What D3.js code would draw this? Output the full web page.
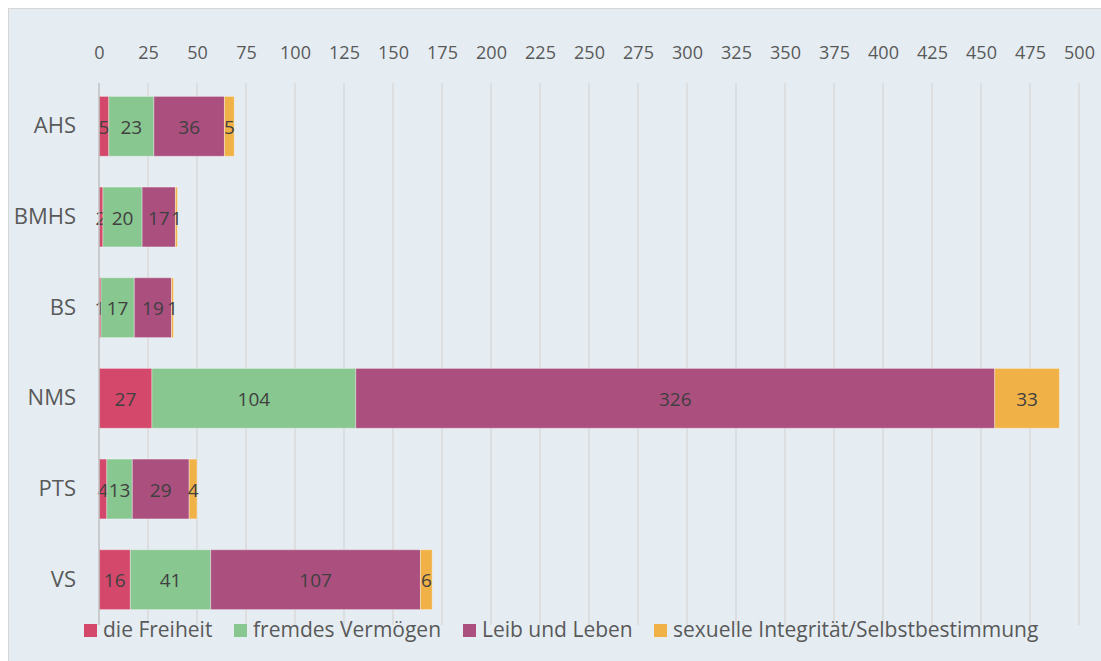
<!DOCTYPE html>
<html>
<head>
<meta charset="utf-8">
<script src="https://cdn.jsdelivr.net/npm/d3@7"></script>
<style>
  html, body { margin: 0; padding: 0; background: #fff; }
  svg text { font-family: "Open Sans", Lato, sans-serif; fill: #595959; }
</style>
</head>
<body>
<svg id="chart" width="1101" height="661"></svg>
<script>
// categories and series
var schools = ['AHS', 'BMHS', 'BS', 'NMS', 'PTS', 'VS'];
var seriesNames = ['die Freiheit', 'fremdes Vermögen', 'Leib und Leben', 'sexuelle Integrität/Selbstbestimmung'];
var freiheit  = [5, 2, 1, 27, 4, 16];
var vermoegen = [23, 20, 17, 104, 13, 41];
var leib      = [36, 17, 19, 326, 29, 107];
var sexuell   = [5, 1, 1, 33, 4, 6];
var tickValues = d3.range(0, 501, 25);
var colors = ['#d4486c', '#88c78f', '#ab4f7f', '#f0b247'];

var svg = d3.select('#chart');

// panel background
svg.append('rect').attr('x', 8.5).attr('y', 8.5).attr('width', 1100).attr('height', 660)
   .attr('fill', '#e5edf3').attr('stroke', '#d6d6d6');

var x = d3.scaleLinear().domain([0, 500]).range([99, 1079]);
var y = d3.scaleBand().domain(schools).range([81, 625]).paddingInner(0.34).paddingOuter(0.17);

var table = schools.map(function(s, i){
    return {school: s, a: freiheit[i], b: vermoegen[i], c: leib[i], d: sexuell[i]};
});
var layers = d3.stack().keys(['a', 'b', 'c', 'd'])(table);

// gridlines
svg.append('g').selectAll('line').data(tickValues.slice(1)).enter().append('line')
   .attr('x1', function(d){ return x(d); }).attr('x2', function(d){ return x(d); })
   .attr('y1', 83).attr('y2', 625)
   .attr('stroke', '#d9d9d9').attr('stroke-width', 1.5);

// top axis labels
var gAxis = svg.append('g').attr('transform', 'translate(0,59)')
   .call(d3.axisTop(x).tickValues(tickValues).tickSize(0).tickPadding(0));
gAxis.select('.domain').remove();
gAxis.selectAll('text').style('font-size', '18px').attr('fill', '#595959')
     .style('font-family', '"Open Sans", Lato, sans-serif');

// bars
var groups = svg.append('g').selectAll('g').data(layers).enter().append('g')
   .attr('fill', function(d, i){ return colors[i]; });

groups.selectAll('rect').data(function(d){ return d; }).enter().append('rect')
   .attr('x', function(d){ return x(d[0]); })
   .attr('width', function(d){ return x(d[1]) - x(d[0]); })
   .attr('y', function(d){ return y(d.data.school); })
   .attr('height', y.bandwidth())
   .attr('stroke', 'rgba(255,255,255,0.35)').attr('stroke-width', 1);

// data labels
groups.selectAll('text').data(function(d){ return d; }).enter().append('text')
   .attr('x', function(d){ return (x(d[0]) + x(d[1])) / 2; })
   .attr('y', function(d){ return y(d.data.school) + y.bandwidth() / 2 + 1; })
   .attr('dy', '0.35em')
   .attr('text-anchor', 'middle')
   .style('font-size', '19px')
   .style('fill', '#404040')
   .text(function(d){ return d[1] - d[0]; });

// zero axis line
svg.append('line').attr('x1', x(0)).attr('x2', x(0)).attr('y1', 83).attr('y2', 625)
   .attr('stroke', '#bfbfbf').attr('stroke-width', 1.5);

// category labels
var gy = svg.append('g').attr('transform', 'translate(76,0)')
   .call(d3.axisLeft(y).tickSize(0).tickPadding(0));
gy.select('.domain').remove();
gy.selectAll('text').style('font-size', '22px').attr('fill', '#595959')
  .style('font-family', '"Open Sans", Lato, sans-serif');

// legend
var legendX = [84, 234, 463, 654];
var legend = svg.append('g').attr('transform', 'translate(0,630)');
var items = legend.selectAll('g').data(seriesNames).enter().append('g')
   .attr('transform', function(d, i){ return 'translate(' + legendX[i] + ',0)'; });
items.append('rect').attr('x', 0).attr('y', -6).attr('width', 13).attr('height', 13)
   .attr('fill', function(d, i){ return colors[i]; });
items.append('text').attr('x', 19).attr('dy', '0.35em').style('font-size', '21px')
   .text(function(d){ return d; });
</script>
</body>
</html>
